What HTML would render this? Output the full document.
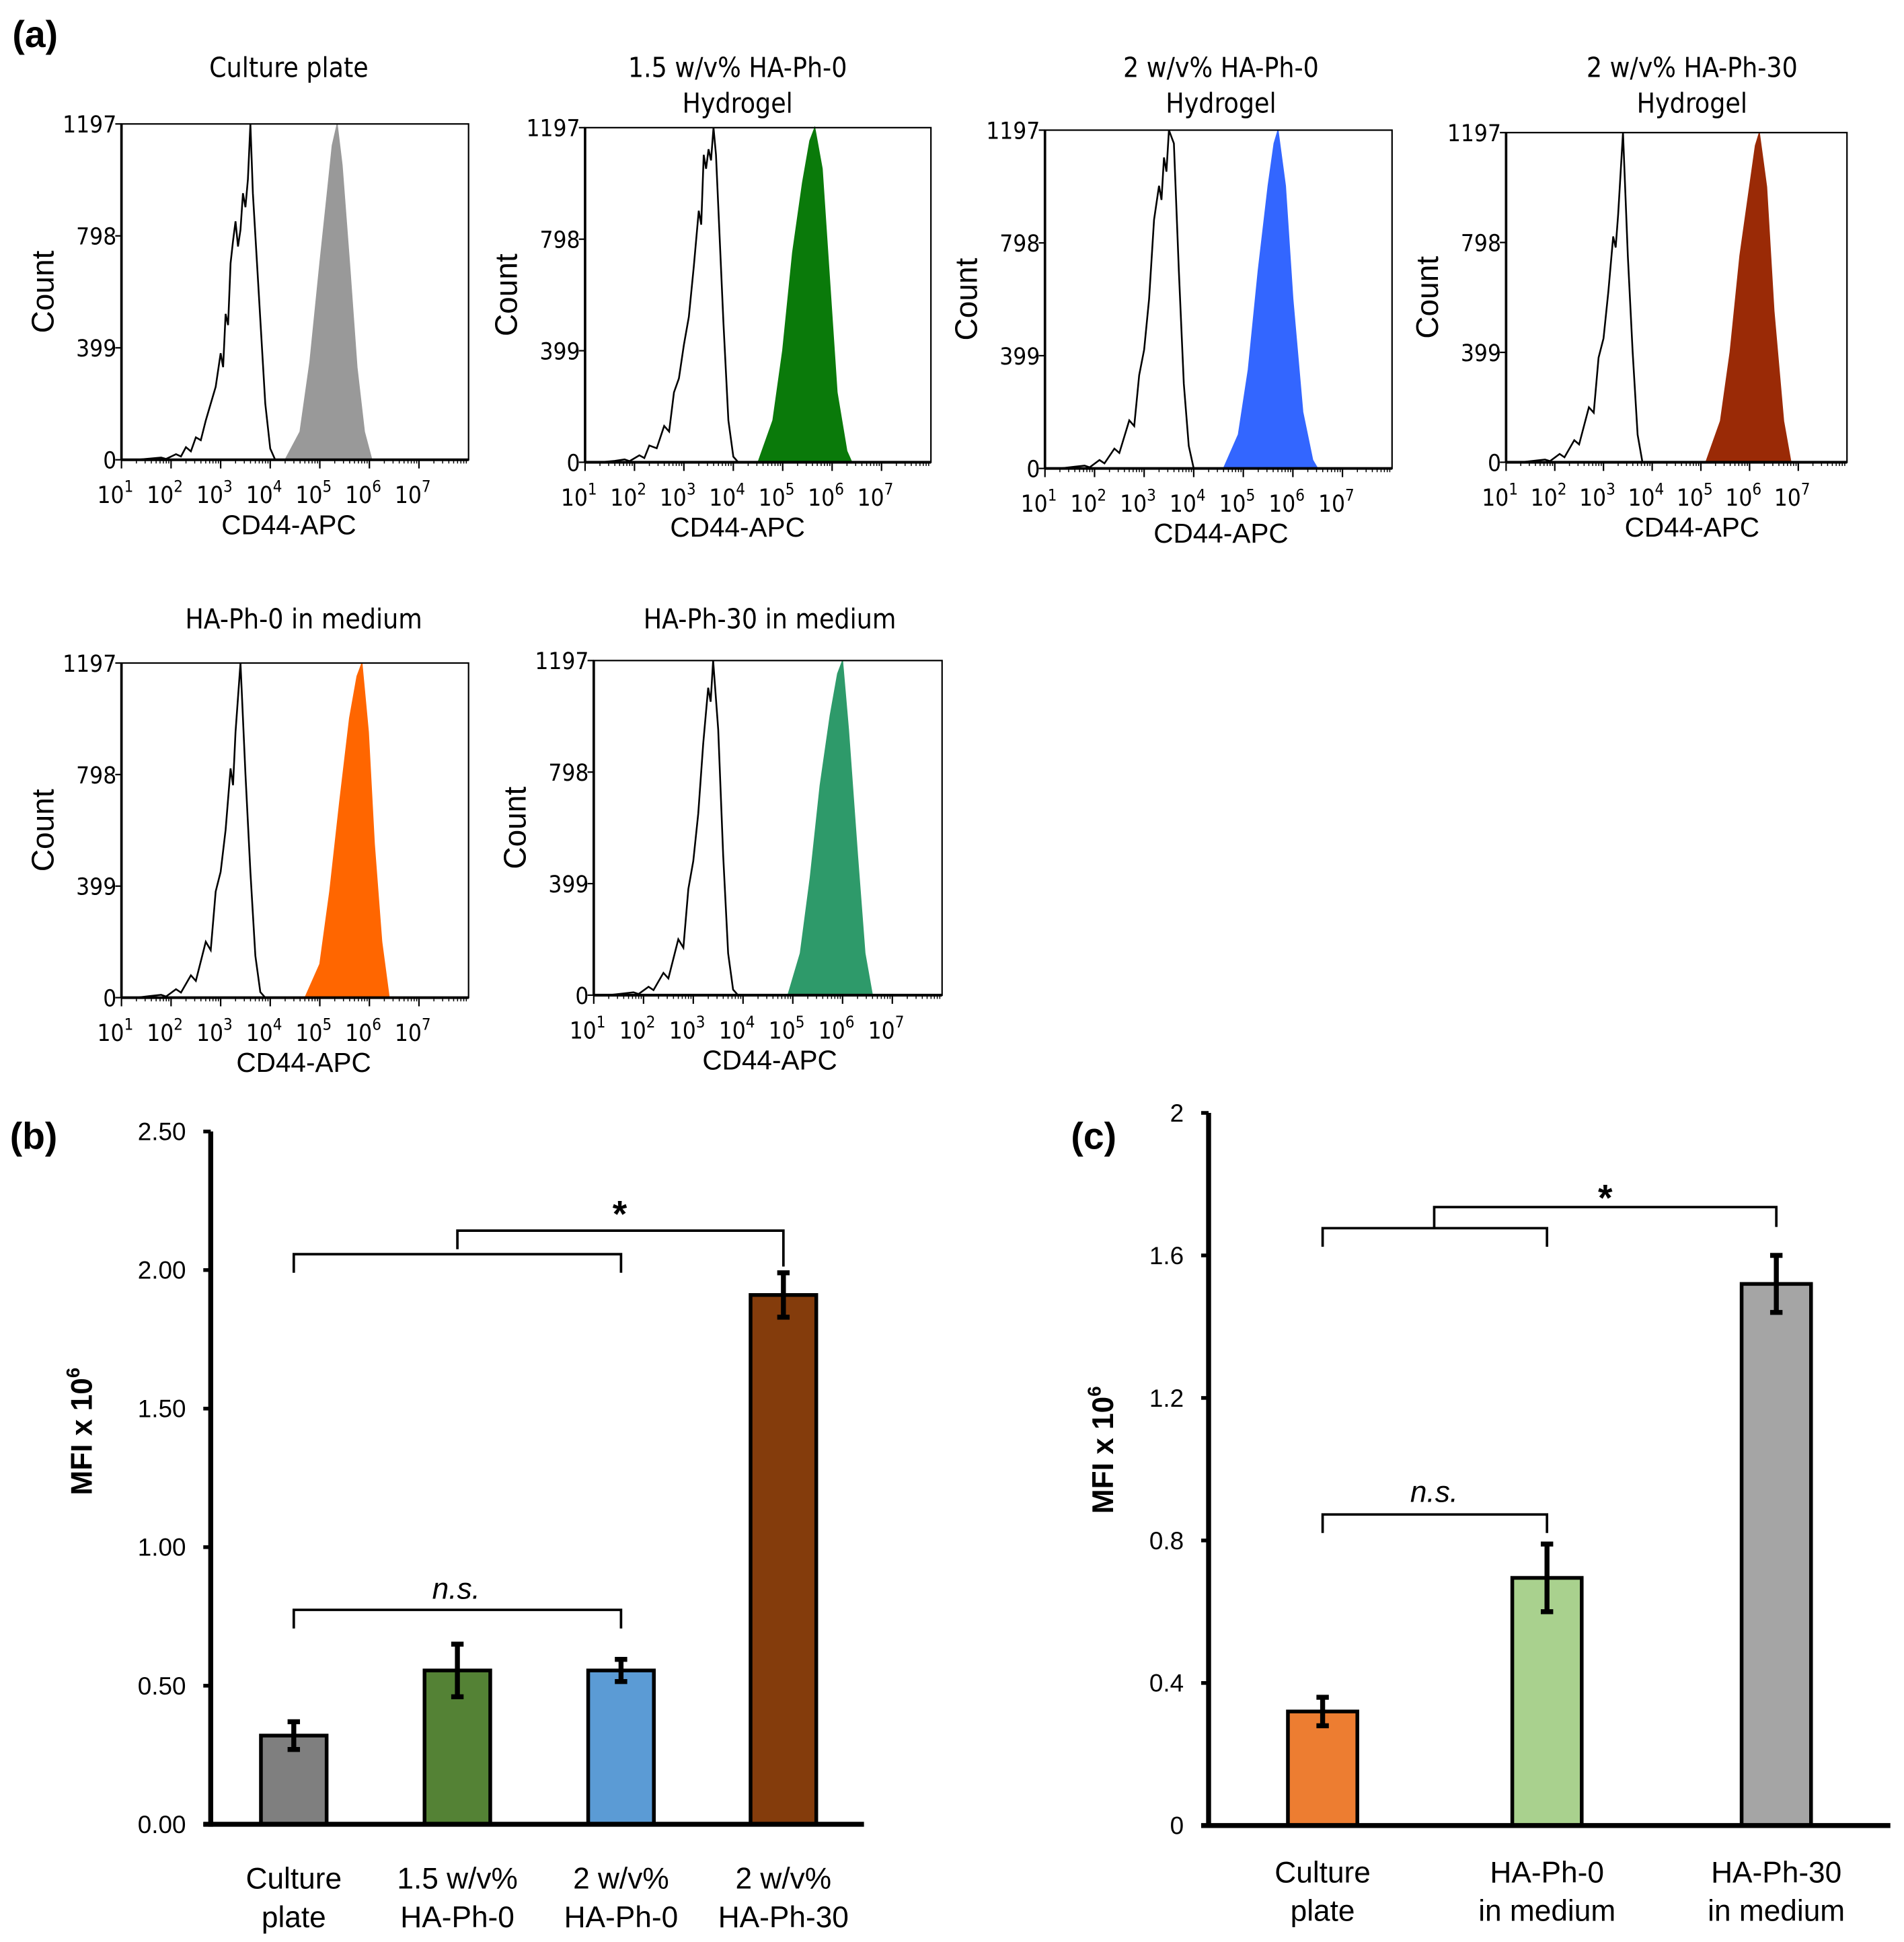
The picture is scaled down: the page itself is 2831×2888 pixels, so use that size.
<!DOCTYPE html>
<html><head><meta charset="utf-8">
<style>
html,body{margin:0;padding:0;background:#fff;}
svg{display:block;}
text{font-family:"Liberation Sans",Arial,sans-serif;fill:#000;}
.nar{font-family:"DejaVu Sans Condensed","Liberation Sans",sans-serif;}
</style></head>
<body>
<svg id="fig" width="2831" height="2888" viewBox="0 0 1536 1567" preserveAspectRatio="none" xmlns="http://www.w3.org/2000/svg">
<text x="10" y="38" font-size="30" font-weight="bold">(a)</text>
<text x="8" y="927" font-size="30" font-weight="bold">(b)</text>
<text x="864" y="927" font-size="30" font-weight="bold">(c)</text>
<g id="hists"></g>
<g id="chartb"></g>
<g id="chartc"></g>
</svg>
<script>
// ---- Histogram data: [log10 intensity, count] ----
const histTitles = [["Culture plate"],["1.5 w/v% HA-Ph-0","Hydrogel"],["2 w/v% HA-Ph-0","Hydrogel"],["2 w/v% HA-Ph-30","Hydrogel"],["HA-Ph-0 in medium"],["HA-Ph-30 in medium"]];
const histColors = ["#999999","#0a7a0a","#3366ff","#9a2a06","#ff6600","#2e9a6a"];
const ctrl1 = [[1.3,0],[1.6,5],[1.8,8],[1.9,3],[2.1,20],[2.2,12],[2.3,45],[2.4,30],[2.5,80],[2.6,70],[2.7,140],[2.8,200],[2.9,260],[3.0,380],[3.05,330],[3.1,520],[3.15,480],[3.2,700],[3.25,780],[3.3,850],[3.35,760],[3.4,820],[3.45,950],[3.5,900],[3.55,1000],[3.6,1197],[3.65,950],[3.7,800],[3.75,650],[3.8,500],[3.9,200],[4.0,40],[4.1,0],[8,0]];
const ctrl2 = [[1.3,0],[1.6,5],[1.8,10],[1.9,4],[2.1,25],[2.2,15],[2.3,60],[2.45,50],[2.6,130],[2.7,110],[2.8,250],[2.9,300],[3.0,420],[3.1,520],[3.2,700],[3.3,900],[3.35,850],[3.4,1100],[3.45,1050],[3.5,1120],[3.55,1080],[3.6,1197],[3.65,1100],[3.7,900],[3.8,500],[3.9,150],[4.0,20],[4.1,0],[8,0]];
const ctrl3 = [[1.3,0],[1.6,6],[1.8,10],[1.9,4],[2.1,30],[2.2,18],[2.4,70],[2.5,55],[2.7,170],[2.8,150],[2.9,330],[3.0,420],[3.1,600],[3.2,880],[3.3,1000],[3.35,950],[3.4,1100],[3.45,1050],[3.5,1197],[3.6,1150],[3.7,700],[3.8,300],[3.9,80],[4.0,0],[8,0]];
const ctrl4 = [[1.3,0],[1.6,6],[1.8,10],[1.9,4],[2.1,30],[2.2,18],[2.4,80],[2.5,65],[2.7,200],[2.8,180],[2.9,380],[3.0,450],[3.1,620],[3.2,820],[3.25,780],[3.3,900],[3.4,1197],[3.5,750],[3.6,400],[3.7,100],[3.8,0],[8,0]];
const ctrl5 = [[1.3,0],[1.6,6],[1.8,10],[1.9,4],[2.1,30],[2.2,18],[2.4,80],[2.5,60],[2.7,200],[2.8,170],[2.9,380],[3.0,450],[3.1,600],[3.2,820],[3.25,760],[3.3,950],[3.4,1197],[3.5,800],[3.6,450],[3.7,150],[3.8,20],[3.9,0],[8,0]];
const ctrl6 = [[1.3,0],[1.6,6],[1.8,10],[1.9,4],[2.1,30],[2.2,18],[2.4,80],[2.5,60],[2.7,200],[2.8,170],[2.9,380],[3.0,480],[3.1,650],[3.2,900],[3.3,1100],[3.35,1050],[3.4,1197],[3.5,950],[3.6,500],[3.7,150],[3.8,20],[3.9,0],[8,0]];
const samp1 = [[4.3,0],[4.6,100],[4.8,350],[5.0,700],[5.15,950],[5.25,1120],[5.35,1197],[5.45,1050],[5.6,700],[5.75,330],[5.9,100],[6.05,0]];
const samp2 = [[4.5,0],[4.8,150],[5.0,400],[5.2,750],[5.4,1000],[5.55,1150],[5.65,1197],[5.8,1050],[5.95,650],[6.1,250],[6.3,40],[6.4,0]];
const samp3 = [[4.6,0],[4.9,120],[5.1,350],[5.3,700],[5.5,1000],[5.62,1150],[5.7,1197],[5.85,1000],[6.0,600],[6.2,200],[6.4,30],[6.5,0]];
const samp4 = [[5.1,0],[5.4,150],[5.6,400],[5.8,750],[6.0,1000],[6.12,1150],[6.2,1197],[6.35,1000],[6.5,550],[6.7,150],[6.85,0]];
const samp5 = [[4.7,0],[5.0,120],[5.2,380],[5.4,700],[5.6,1000],[5.75,1150],[5.85,1197],[5.98,950],[6.1,550],[6.25,200],[6.4,0]];
const samp6 = [[4.9,0],[5.15,150],[5.35,420],[5.55,750],[5.75,1000],[5.9,1150],[6.0,1197],[6.12,950],[6.3,500],[6.45,150],[6.6,0]];
const ctrlSets = [ctrl1,ctrl2,ctrl3,ctrl4,ctrl5,ctrl6];
const sampSets = [samp1,samp2,samp3,samp4,samp5,samp6];
const yTickVals = [0,399,798,1197];
const xDecades = [1,2,3,4,5,6,7];

// ---- Bar chart (b) ----
const bCats = [["Culture","plate"],["1.5 w/v%","HA-Ph-0"],["2 w/v%","HA-Ph-0"],["2 w/v%","HA-Ph-30"]];
const bVals = [0.32,0.555,0.555,1.91];
const bErr = [0.05,0.095,0.04,0.08];
const bColors = ["#7f7f7f","#548235","#5b9bd5","#843c0c"];
const bTicks = [0,0.5,1.0,1.5,2.0,2.5];
const bTickLabels = ["0.00","0.50","1.00","1.50","2.00","2.50"];
// ---- Bar chart (c) ----
const cCats = [["Culture","plate"],["HA-Ph-0","in medium"],["HA-Ph-30","in medium"]];
const cVals = [0.32,0.695,1.52];
const cErr = [0.04,0.095,0.08];
const cColors = ["#ed7d31","#a9d18e","#a5a5a5"];
const cTicks = [0,0.4,0.8,1.2,1.6,2.0];
const cTickLabels = ["0","0.4","0.8","1.2","1.6","2"];

const NS="http://www.w3.org/2000/svg";
function mk(tag,attrs,parent){const e=document.createElementNS(NS,tag);for(const k in attrs)e.setAttribute(k,attrs[k]);parent.appendChild(e);return e;}

const boxes=[[98,100,378,371,233],[472,103,751,373,595],[843,105,1123,378,985],[1215,107,1490,373,1365],[98,535,378,805,245],[479,533,760,803,621]];
const hg=document.getElementById('hists');
boxes.forEach((b,i)=>{
  const [x0,y0,x1,y1,tc]=b;
  const g=mk('g',{},hg);
  
  
  const dw=(x1-x0)/7;
  const X=l=>x0+(l-1)*dw;
  const Y=c=>y1-c/1197*(y1-y0);
  const lines=histTitles[i];
  lines.forEach((t,j)=>{const e=mk('text',{x:tc,y:(i<4?(lines.length==1?62:62+j*29):507),'font-size':22,'text-anchor':'middle',class:'nar'},g);e.textContent=t;
    
    });
  const s=sampSets[i];
  let d='M'+X(s[0][0])+','+Y(0);
  s.forEach(p=>{d+=' L'+X(p[0]).toFixed(1)+','+Y(p[1]).toFixed(1);});
  d+=' Z';
  const sp=mk('path',{d:d,fill:histColors[i],stroke:histColors[i],'stroke-width':0.8},g);
  
  
  const c=ctrlSets[i];
  const cp=mk('polyline',{points:c.map(p=>X(Math.min(p[0],8)).toFixed(1)+','+Y(p[1]).toFixed(1)).join(' '),fill:'none',stroke:'#000','stroke-width':1.4},g);
  
  
  const fr=mk('rect',{x:x0,y:y0,width:x1-x0,height:y1-y0,fill:'none',stroke:'#000','stroke-width':1.2},g);
  
  
  mk('line',{x1:x0,y1:y1,x2:x1,y2:y1,stroke:'#000','stroke-width':2.2},g);
  mk('line',{x1:x0,y1:y0,x2:x0,y2:y1,stroke:'#000','stroke-width':2},g);
  yTickVals.forEach(v=>{mk('line',{x1:x0-5,y1:Y(v),x2:x0,y2:Y(v),stroke:'#000','stroke-width':1.2},g);
    const t=mk('text',{x:x0-4,y:Y(v)+7,'font-size':19,'text-anchor':'end',class:'nar'},g);t.textContent=v;
    
    });
  xDecades.forEach(dd=>{mk('line',{x1:X(dd),y1:y1,x2:X(dd),y2:y1+7,stroke:'#000','stroke-width':1.2},g);
    for(let k=2;k<10;k++){const xm=X(dd+Math.log10(k));mk('line',{x1:xm,y1:y1,x2:xm,y2:y1+3,stroke:'#000','stroke-width':0.8},g);}
    const t=mk('text',{x:X(dd)-5,y:y1+35,'font-size':19,'text-anchor':'middle',class:'nar'},g);
    
    
    const a=mk('tspan',{},t);a.textContent='10';const sup=mk('tspan',{dy:-9,'font-size':13},t);sup.textContent=dd;});
  const xl=mk('text',{x:tc,y:y1+60,'font-size':22,'text-anchor':'middle'},g);xl.textContent='CD44-APC';
  
  
  const yl=mk('text',{x:0,y:0,'font-size':25,'text-anchor':'middle',transform:`translate(${x0-55},${(y0+y1)/2}) rotate(-90)`},g);yl.textContent='Count';
  
  
});

function barChart(id,cfg){
  const g=document.getElementById(id);
  const {ax,top,bot,right,ymax,vals,errs,cols,cats,ticks,tlabels,centers,bw,ylx,yly}=cfg;
  const Y=v=>bot-v/ymax*(bot-top);
  ticks.forEach((v,i)=>{mk('line',{x1:ax-6,y1:Y(v),x2:ax,y2:Y(v),stroke:'#000','stroke-width':3},g);
    const t=mk('text',{x:ax-20,y:Y(v)+7,'font-size':20,'text-anchor':'end'},g);t.textContent=tlabels[i];
    
    });
  vals.forEach((v,i)=>{
    const cx=centers[i];
    const r=mk('rect',{x:cx-bw/2,y:Y(v),width:bw,height:bot-Y(v),fill:cols[i],stroke:'#000','stroke-width':3},g);
    
    
    const e=errs[i];
    const eg=mk('g',{stroke:'#000','stroke-width':4},g);
    
    
    mk('line',{x1:cx,y1:Y(v+e),x2:cx,y2:Y(v-e)},eg);
    mk('line',{x1:cx-5,y1:Y(v+e),x2:cx+5,y2:Y(v+e)},eg);
    mk('line',{x1:cx-5,y1:Y(v-e),x2:cx+5,y2:Y(v-e)},eg);
    cats[i].forEach((s,j)=>{const t=mk('text',{x:cx,y:cfg.laby+j*31,'font-size':24,'text-anchor':'middle'},g);t.textContent=s;
      
      });
  });
  mk('line',{x1:ax,y1:top,x2:ax,y2:bot+2,stroke:'#000','stroke-width':4},g);
  mk('line',{x1:ax-6,y1:bot,x2:right,y2:bot,stroke:'#000','stroke-width':4},g);
  const yl=mk('text',{x:0,y:0,'font-size':24,'font-weight':'bold','text-anchor':'middle',transform:`translate(${ylx},${yly}) rotate(-90)`},g);
  
  
  const a=mk('tspan',{},yl);a.textContent='MFI x 10';const s=mk('tspan',{dy:-10,'font-size':15},yl);s.textContent='6';
  cfg.brackets.forEach(br=>{
    const p=mk('polyline',{points:br,fill:'none',stroke:'#000','stroke-width':2},g);
    
    
  });
  cfg.marks.forEach(m=>{const t=mk('text',{x:m[0],y:m[1],'font-size':m[3],'text-anchor':'middle','font-style':m[4],'font-weight':m[5]||'normal'},g);t.textContent=m[2];
    
    });
}
barChart('chartb',{ax:170,top:913,bot:1472,right:697,ymax:2.5,vals:bVals,errs:bErr,cols:bColors,cats:bCats,ticks:bTicks,tlabels:bTickLabels,
  centers:[237,369,501,632],bw:53,laby:1524,ylx:74,yly:1155,
  brackets:["237,1027 237,1012 501,1012 501,1027","369,1008 369,993 632,993 632,1022","237,1314 237,1299 501,1299 501,1314"],
  marks:[[368,1290,"n.s.",24,"italic"],[500,990,"*",30,"normal","bold"]]});
barChart('chartc',{ax:975,top:898,bot:1473,right:1525,ymax:2.0,vals:cVals,errs:cErr,cols:cColors,cats:cCats,ticks:cTicks,tlabels:cTickLabels,
  centers:[1067,1248,1433],bw:56,laby:1519,ylx:898,yly:1170,
  brackets:["1067,1006 1067,991 1248,991 1248,1006","1157,991 1157,974 1433,974 1433,990","1067,1237 1067,1222 1248,1222 1248,1237"],
  marks:[[1157,1212,"n.s.",24,"italic"],[1295,977,"*",30,"normal","bold"]]});
</script>
</body></html>
